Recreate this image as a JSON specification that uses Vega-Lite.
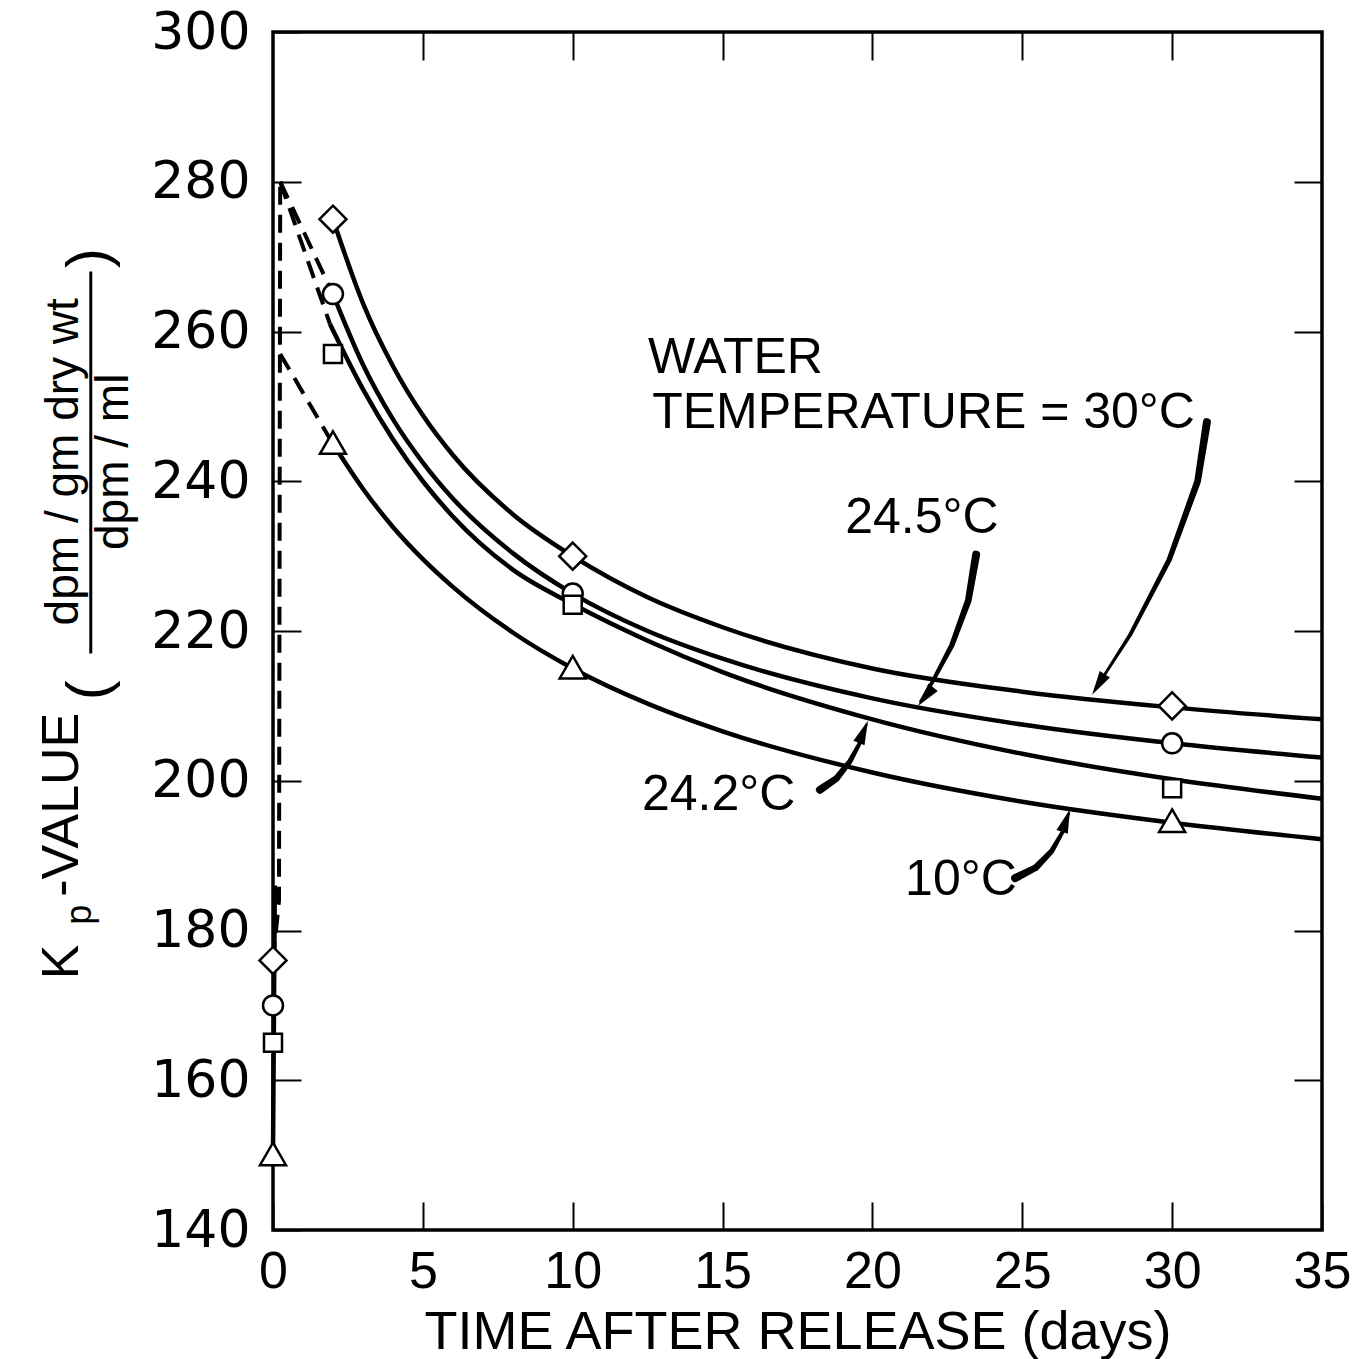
{
  "$schema": "https://vega.github.io/schema/vega-lite/v6.json",
  "width": 1049,
  "height": 1198,
  "autosize": {"type": "none"},
  "padding": {"left": 273, "top": 32, "right": 39, "bottom": 129},
  "background": "white",
  "config": {
    "font": "Liberation Sans",
    "view": {"stroke": "black", "strokeWidth": 3.5},
    "text": {"font": "Liberation Sans", "color": "black"}
  },
  "datasets": {
    "obs": [
      {"s": "30", "t": 0, "k": 176}, {"s": "30", "t": 2, "k": 275}, {"s": "30", "t": 10, "k": 230}, {"s": "30", "t": 30, "k": 210},
      {"s": "24.5", "t": 0, "k": 170}, {"s": "24.5", "t": 2, "k": 265}, {"s": "24.5", "t": 10, "k": 225}, {"s": "24.5", "t": 30, "k": 205},
      {"s": "24.2", "t": 0, "k": 165}, {"s": "24.2", "t": 2, "k": 257}, {"s": "24.2", "t": 10, "k": 223.5}, {"s": "24.2", "t": 30, "k": 199},
      {"s": "10", "t": 0, "k": 150}, {"s": "10", "t": 2, "k": 245}, {"s": "10", "t": 10, "k": 215}, {"s": "10", "t": 30, "k": 194.5}
    ],
    "curves": [
      {"s": "30", "t": 2, "k": 275}, {"s": "30", "t": 3, "k": 263.8}, {"s": "30", "t": 4, "k": 255.4}, {"s": "30", "t": 5, "k": 248.8},
      {"s": "30", "t": 6, "k": 243.5}, {"s": "30", "t": 8, "k": 235.6}, {"s": "30", "t": 10, "k": 230}, {"s": "30", "t": 12.5, "k": 224.5},
      {"s": "30", "t": 15, "k": 220.5}, {"s": "30", "t": 20, "k": 215}, {"s": "30", "t": 25, "k": 211.9}, {"s": "30", "t": 30, "k": 209.8},
      {"s": "30", "t": 35, "k": 208.2},
      {"s": "24.5", "t": 2, "k": 265}, {"s": "24.5", "t": 3, "k": 255.6}, {"s": "24.5", "t": 4, "k": 248.3}, {"s": "24.5", "t": 5, "k": 242.5},
      {"s": "24.5", "t": 6, "k": 237.7}, {"s": "24.5", "t": 8, "k": 230.4}, {"s": "24.5", "t": 10, "k": 225}, {"s": "24.5", "t": 12.5, "k": 220},
      {"s": "24.5", "t": 15, "k": 216.3}, {"s": "24.5", "t": 20, "k": 211}, {"s": "24.5", "t": 25, "k": 207.5}, {"s": "24.5", "t": 30, "k": 205},
      {"s": "24.5", "t": 35, "k": 203.1},
      {"s": "24.2", "t": 1.9, "k": 261}, {"s": "24.2", "t": 3, "k": 252.3}, {"s": "24.2", "t": 4, "k": 245.6}, {"s": "24.2", "t": 5, "k": 240.0},
      {"s": "24.2", "t": 6, "k": 235.3}, {"s": "24.2", "t": 8, "k": 228.2}, {"s": "24.2", "t": 10, "k": 223.6}, {"s": "24.2", "t": 12.5, "k": 218.7},
      {"s": "24.2", "t": 15, "k": 214.5}, {"s": "24.2", "t": 20, "k": 208.2}, {"s": "24.2", "t": 25, "k": 203.6}, {"s": "24.2", "t": 30, "k": 200.2},
      {"s": "24.2", "t": 35, "k": 197.6},
      {"s": "10", "t": 2, "k": 245}, {"s": "10", "t": 3, "k": 239}, {"s": "10", "t": 4, "k": 233.9}, {"s": "10", "t": 5, "k": 229.6},
      {"s": "10", "t": 6, "k": 225.9}, {"s": "10", "t": 8, "k": 219.8}, {"s": "10", "t": 10, "k": 215}, {"s": "10", "t": 12.5, "k": 210.3},
      {"s": "10", "t": 15, "k": 206.6}, {"s": "10", "t": 20, "k": 201.1}, {"s": "10", "t": 25, "k": 197.2}, {"s": "10", "t": 30, "k": 194.4},
      {"s": "10", "t": 35, "k": 192.2},
      {"s": "start", "t": 0, "k": 150}, {"s": "start", "t": 0.06, "k": 186}
    ],
    "dash": [
      {"s": "30", "i": 0, "t": 0, "k": 176}, {"s": "30", "i": 1, "t": 0.2, "k": 184}, {"s": "30", "i": 2, "t": 0.24, "k": 280},
      {"s": "24.5", "i": 0, "t": 0.24, "k": 280}, {"s": "24.5", "i": 1, "t": 2, "k": 265},
      {"s": "24.2", "i": 0, "t": 0.24, "k": 280}, {"s": "24.2", "i": 1, "t": 1.9, "k": 261},
      {"s": "10", "i": 0, "t": 0.24, "k": 257}, {"s": "10", "i": 1, "t": 2, "k": 245}
    ],
    "arrows": [
      {"a": "30", "i": 0, "t": 31.16, "k": 247.9}, {"a": "30", "i": 1, "t": 30.85, "k": 240}, {"a": "30", "i": 2, "t": 29.9, "k": 229.5},
      {"a": "30", "i": 3, "t": 28.6, "k": 219.5}, {"a": "30", "i": 4, "t": 27.45, "k": 212.3},
      {"a": "24.5", "i": 0, "t": 23.46, "k": 230.2}, {"a": "24.5", "i": 1, "t": 23.2, "k": 224.1}, {"a": "24.5", "i": 2, "t": 22.65, "k": 218.1},
      {"a": "24.5", "i": 3, "t": 22.0, "k": 213.2}, {"a": "24.5", "i": 4, "t": 21.6, "k": 210.6},
      {"a": "24.2", "i": 0, "t": 18.25, "k": 198.8}, {"a": "24.2", "i": 1, "t": 18.8, "k": 200.3}, {"a": "24.2", "i": 2, "t": 19.25, "k": 202.6},
      {"a": "24.2", "i": 3, "t": 19.6, "k": 205.2}, {"a": "24.2", "i": 4, "t": 19.8, "k": 207.5},
      {"a": "10", "i": 0, "t": 24.76, "k": 187.0}, {"a": "10", "i": 1, "t": 25.45, "k": 188.4}, {"a": "10", "i": 2, "t": 25.98, "k": 190.6},
      {"a": "10", "i": 3, "t": 26.35, "k": 193.2}, {"a": "10", "i": 4, "t": 26.55, "k": 195.6}
    ],
    "heads": [
      {"a": "30", "t": 27.33, "k": 211.5},
      {"a": "24.5", "t": 21.52, "k": 210.0},
      {"a": "24.2", "t": 19.85, "k": 208.0},
      {"a": "10", "t": 26.59, "k": 196.2}
    ],
    "notes": [
      {"txt": "WATER", "t": 12.51, "k": 254.46},
      {"txt": "TEMPERATURE = 30°C", "t": 12.65, "k": 247.1},
      {"txt": "24.5°C", "t": 19.09, "k": 233.1},
      {"txt": "24.2°C", "t": 12.31, "k": 196.1},
      {"txt": "10°C", "t": 21.09, "k": 184.7}
    ]
  },
  "encoding": {
    "x": {"field": "t", "type": "quantitative", "scale": {"domain": [0, 35], "nice": false, "zero": false}, "axis": null},
    "y": {"field": "k", "type": "quantitative", "scale": {"domain": [140, 300], "nice": false, "zero": false}, "axis": null}
  },
  "layer": [
    {
      "data": {"name": "dash"},
      "mark": {"type": "line", "color": "black", "strokeWidth": 4, "strokeDash": [18, 10]},
      "encoding": {"detail": {"field": "s"}, "order": {"field": "i"}}
    },
    {
      "data": {"name": "curves"},
      "mark": {"type": "line", "color": "black", "strokeWidth": 4.5, "interpolate": "monotone"},
      "encoding": {
        "detail": {"field": "s"},
        "x": {
          "field": "t", "type": "quantitative",
          "scale": {"domain": [0, 35], "nice": false, "zero": false},
          "axis": {
            "orient": "bottom", "values": [0, 5, 10, 15, 20, 25, 30, 35], "domain": false, "grid": false,
            "ticks": true, "tickSize": -28, "tickWidth": 2, "tickColor": "black",
            "labelFontSize": 52, "labelColor": "black", "labelFont": "Liberation Sans", "labelPadding": 44,
            "labelFlush": false, "labelOverlap": false,
            "title": "TIME AFTER RELEASE (days)", "titleFont": "Liberation Sans", "titleFontSize": 54,
            "titleFontWeight": "normal", "titleColor": "black", "titlePadding": 8
          }
        },
        "y": {
          "field": "k", "type": "quantitative",
          "scale": {"domain": [140, 300], "nice": false, "zero": false},
          "axis": {
            "orient": "left", "values": [140, 160, 180, 200, 220, 240, 260, 280, 300], "domain": false, "grid": false,
            "ticks": true, "tickSize": -28, "tickWidth": 2, "tickColor": "black",
            "labelFontSize": 52, "labelColor": "black", "labelFont": "DejaVu Sans", "labelPadding": 51,
            "labelFlush": false, "labelOverlap": false, "title": null
          }
        }
      }
    },
    {
      "data": {"name": "obs"},
      "mark": {"type": "point", "filled": true, "fill": "white", "stroke": "black", "strokeWidth": 2.5, "size": 400, "opacity": 1},
      "encoding": {
        "shape": {
          "field": "s", "type": "nominal",
          "scale": {
            "domain": ["30", "24.5", "24.2", "10"],
            "range": ["M0,-1.35L1.35,0L0,1.35L-1.35,0Z", "circle", "M-0.9,-0.9L0.9,-0.9L0.9,0.9L-0.9,0.9Z", "M0,-1.25L1.3,1.0L-1.3,1.0Z"]
          },
          "legend": null
        },
        "x": {
          "field": "t", "type": "quantitative",
          "scale": {"domain": [0, 35], "nice": false, "zero": false},
          "axis": {
            "orient": "top", "values": [5, 10, 15, 20, 25, 30], "domain": false, "grid": false, "labels": false,
            "ticks": true, "tickSize": -28, "tickWidth": 2, "tickColor": "black", "title": null
          }
        },
        "y": {
          "field": "k", "type": "quantitative",
          "scale": {"domain": [140, 300], "nice": false, "zero": false},
          "axis": {
            "orient": "right", "values": [160, 180, 200, 220, 240, 260, 280], "domain": false, "grid": false, "labels": false,
            "ticks": true, "tickSize": -28, "tickWidth": 2, "tickColor": "black", "title": null
          }
        }
      }
    },
    {
      "data": {"name": "arrows"},
      "mark": {"type": "trail", "color": "black"},
      "encoding": {
        "detail": {"field": "a"},
        "order": {"field": "i"},
        "size": {"field": "i", "type": "quantitative", "scale": {"domain": [0, 4], "range": [8, 2.5]}, "legend": null}
      }
    },
    {
      "data": {"name": "heads"},
      "transform": [{"filter": "datum.a == '30'"}],
      "mark": {"type": "point", "shape": "M0,0L0.8,3.2L-0.8,3.2Z", "filled": true, "color": "black", "opacity": 1, "size": 225, "angle": 212}
    },
    {
      "data": {"name": "heads"},
      "transform": [{"filter": "datum.a == '24.5'"}],
      "mark": {"type": "point", "shape": "M0,0L0.8,3.2L-0.8,3.2Z", "filled": true, "color": "black", "opacity": 1, "size": 225, "angle": 219}
    },
    {
      "data": {"name": "heads"},
      "transform": [{"filter": "datum.a == '24.2'"}],
      "mark": {"type": "point", "shape": "M0,0L0.8,3.2L-0.8,3.2Z", "filled": true, "color": "black", "opacity": 1, "size": 225, "angle": 22}
    },
    {
      "data": {"name": "heads"},
      "transform": [{"filter": "datum.a == '10'"}],
      "mark": {"type": "point", "shape": "M0,0L0.8,3.2L-0.8,3.2Z", "filled": true, "color": "black", "opacity": 1, "size": 225, "angle": 19}
    },
    {
      "data": {"name": "notes"},
      "mark": {"type": "text", "align": "left", "baseline": "alphabetic", "fontSize": 50, "font": "Liberation Sans"},
      "encoding": {"text": {"field": "txt"}}
    },
    {
      "data": {"values": [{"txt": "K", "t": -7.04, "k": 175.8}, {"txt": "-VALUE", "t": -7.04, "k": 196.8}]},
      "mark": {"type": "text", "angle": 270, "align": "center", "baseline": "middle", "fontSize": 52},
      "encoding": {"text": {"field": "txt"}}
    },
    {
      "data": {"values": [{"txt": "p", "t": -6.44, "k": 182.1}]},
      "mark": {"type": "text", "angle": 270, "align": "center", "baseline": "middle", "fontSize": 36},
      "encoding": {"text": {"field": "txt"}}
    },
    {
      "data": {"values": [{"txt": "(", "t": -6.1, "k": 212.1}, {"txt": ")", "t": -6.1, "k": 269.8}]},
      "mark": {"type": "text", "angle": 270, "align": "center", "baseline": "middle", "fontSize": 60},
      "encoding": {"text": {"field": "txt"}}
    },
    {
      "data": {"values": [{"txt": "dpm / gm dry wt", "t": -6.97, "k": 242.6}, {"txt": "dpm / ml", "t": -5.3, "k": 242.6}]},
      "mark": {"type": "text", "angle": 270, "align": "center", "baseline": "middle", "fontSize": 46},
      "encoding": {"text": {"field": "txt"}}
    },
    {
      "data": {"values": [{"t": -6.08, "k": 217.0, "k2": 268.0}]},
      "mark": {"type": "rule", "color": "black", "strokeWidth": 3},
      "encoding": {"y2": {"field": "k2"}}
    }
  ],
  "resolve": {"axis": {"x": "independent", "y": "independent"}}
}
